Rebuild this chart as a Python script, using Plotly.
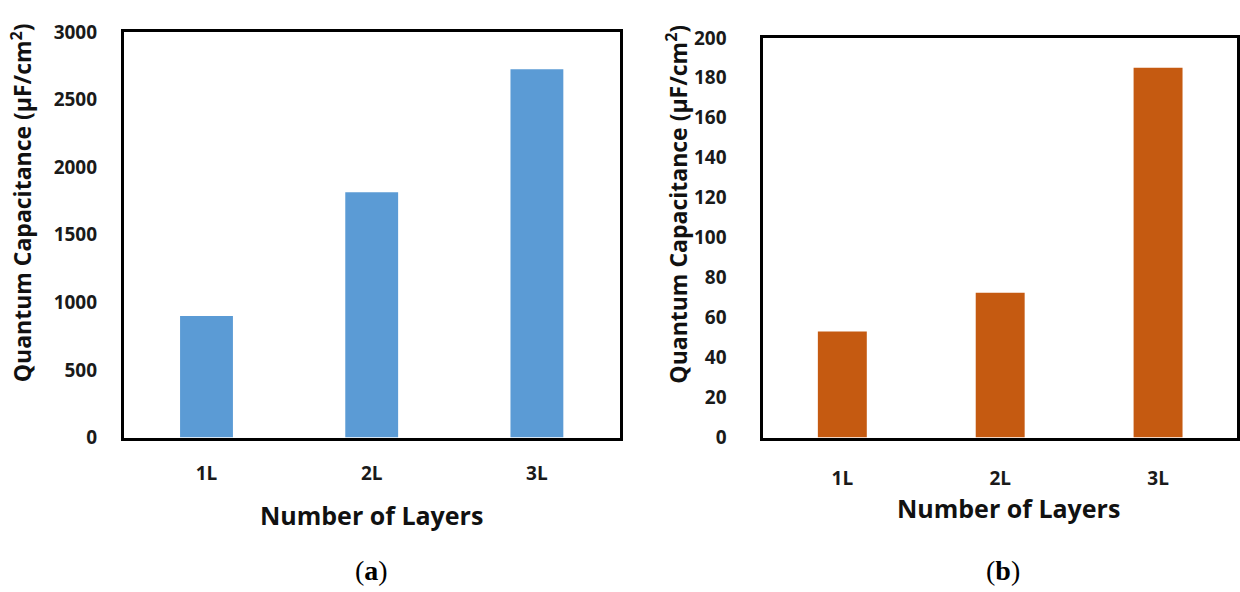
import plotly.graph_objects as go

# Quantum capacitance versus number of layers, two panels
layers = ["1L", "2L", "3L"]
cap_a = [900, 1815, 2725]      # panel (a), μF/cm²
cap_b = [53, 72.5, 185]        # panel (b), μF/cm²
ticks_a = [0, 500, 1000, 1500, 2000, 2500, 3000]
ticks_b = [0, 20, 40, 60, 80, 100, 120, 140, 160, 180, 200]

W, H = 1240, 592
BLUE = "#5B9BD5"
ORANGE = "#C55A11"
FONT = "Open Sans"


def px(x):
    return x / W


def py(y):
    return (H - y) / H


fig = go.Figure()
fig.add_trace(go.Bar(x=layers, y=cap_a, marker=dict(color=BLUE, line=dict(width=0)),
                     width=0.32, xaxis="x", yaxis="y"))
fig.add_trace(go.Bar(x=layers, y=cap_b, marker=dict(color=ORANGE, line=dict(width=0)),
                     width=0.31, xaxis="x2", yaxis="y2"))

tick_font = dict(family=FONT, size=19, color="#1a1a1a", weight="bold")
axis_common = dict(showline=True, mirror=True, linecolor="black", linewidth=3,
                   showgrid=False, zeroline=False, ticks="", tickfont=tick_font)

fig.update_layout(
    width=W, height=H,
    margin=dict(l=0, r=0, t=0, b=0),
    paper_bgcolor="white", plot_bgcolor="white",
    showlegend=False,
    xaxis=dict(domain=[px(124), px(620)], range=[-0.5, 2.5], anchor="y",
               ticklabelstandoff=17, **axis_common),
    yaxis=dict(domain=[py(444), py(20)], range=[0, 3000], anchor="x",
               tickvals=ticks_a, ticklabelstandoff=20, **axis_common),
    xaxis2=dict(domain=[px(764), px(1238)], range=[-0.5, 2.5], anchor="y2",
                ticklabelstandoff=22, **axis_common),
    yaxis2=dict(domain=[py(444), py(26)], range=[0, 200], anchor="x2",
                tickvals=ticks_b, ticklabelstandoff=30, **axis_common),
)

ytitle = "<b>Quantum Capacitance (μF/cm<sup>2</sup>)</b>"
xtitle = "<b>Number of Layers</b>"
title_font = dict(family=FONT, size=23, color="#111111")
xtitle_font = dict(family=FONT, size=25, color="#111111")
caption_font = dict(family="Liberation Serif", size=28, color="black")
notes = [
    # axis titles
    dict(x=px(22), y=py(198), text=ytitle, textangle=-90, font=title_font),
    dict(x=px(678), y=py(200), text=ytitle, textangle=-90, font=title_font),
    dict(x=px(372), y=py(525), text=xtitle, font=xtitle_font),
    dict(x=px(1009), y=py(518), text=xtitle, font=xtitle_font),
]
for n in notes:
    fig.add_annotation(xref="paper", yref="paper", showarrow=False,
                       xanchor="center", yanchor="middle", **n)

# panel captions, set just below the figure's lower edge
for x, label in [(372, "(<b>a</b>)"), (1004, "(<b>b</b>)")]:
    fig.add_annotation(xref="paper", yref="paper", showarrow=False,
                       x=px(x), y=-0.016, xanchor="center", yanchor="bottom",
                       text=label, font=caption_font)

fig.write_html("out.html")
